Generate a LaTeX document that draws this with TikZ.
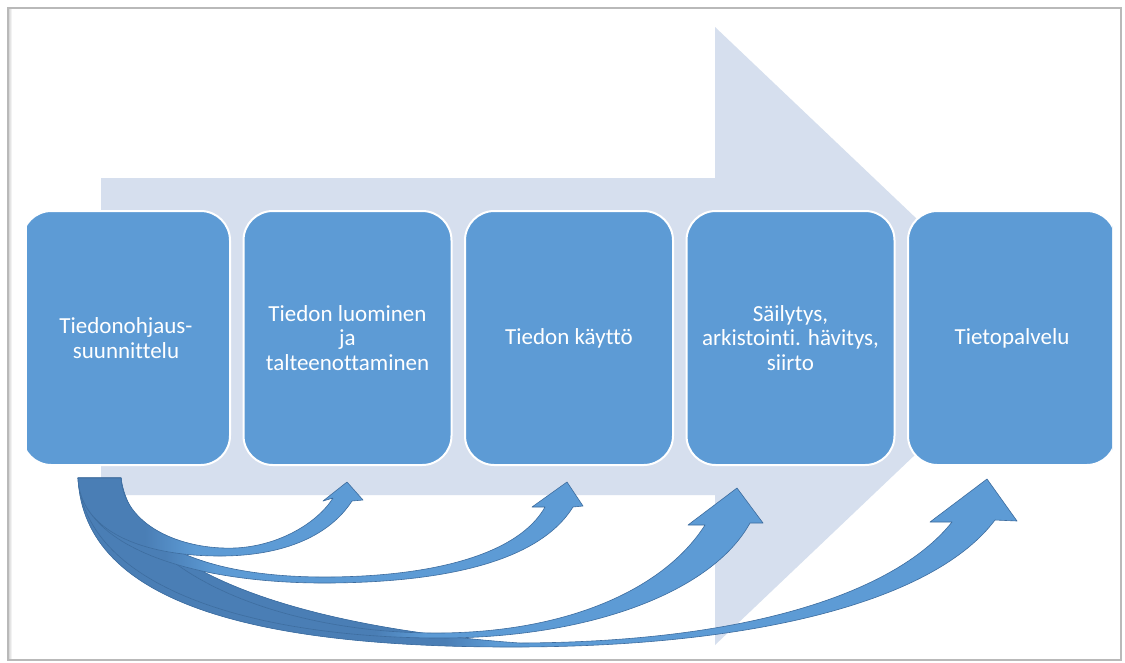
\documentclass[tikz,border=0pt]{standalone}
\usepackage{fontspec}
\setmainfont{Carlito}[Ligatures=NoCommon]
\definecolor{shaftgray}{RGB}{214,223,238}
\definecolor{boxblue}{RGB}{93,155,213}
\definecolor{curvelight}{RGB}{93,155,213}
\definecolor{curvedark}{RGB}{74,126,181}
\definecolor{curveline}{RGB}{61,108,158}
\tikzset{
  stage/.style={draw=white, line width=1.5pt, fill=boxblue, rounded corners=22pt,
    minimum width=156pt, minimum height=190.5pt, inner sep=2pt, align=center,
    text=white, font=\fontsize{17.25}{18.5}\selectfont},
  bent/.style={fill=curvelight, draw=curveline, line width=0.45pt, line join=round},
  backside/.style={path picture={
    \fill[curvedark] (0,440) rectangle (#1-25,662);
    \shade[left color=curvedark, right color=curvelight] (#1-25,440) rectangle (#1+25,662);}},
}

\begin{document}
\begin{tikzpicture}[x=0.75pt, y=-0.75pt]
        \useasboundingbox (0,0) rectangle (1125,662);
        \fill[white] (0,0) rectangle (1125,662);
        \fill[left color=gray!50, right color=white] (7,8) rectangle (12,660);
        \draw[gray!55, line width=0.8pt] (8,8) -- (1121,8) -- (1121,660) -- (8,660) -- cycle;
        \fill[shaftgray] (101,178) -- (715,178) -- (715,27) -- (1040,336) -- (715,645) -- (715,495) -- (101,495) -- cycle;
        \begin{scope}
        \clip (27,0) rectangle (1112,662);
        \node[stage] (plan) at (126,338) {Tiedonohjaus-\\suunnittelu};
        \node[stage] (luonti) at (347.5,338) {Tiedon luominen\\ja\\talteenottaminen};
        \node[stage] (kaytto) at (569,338) {Tiedon käyttö};
        \node[stage] (sailytys) at (790.5,338) {Säilytys,\\arkistointi. hävitys,\\siirto};
        \node[stage] (palvelu) at (1012,338) {Tietopalvelu};
        \end{scope}
        \coordinate (tailL) at (78,478);
        \coordinate (tailR) at (121,478);
        \coordinate (tipD) at (987,479);
        \coordinate (tipC) at (737,488);
        \coordinate (tipB) at (567,482);
        \coordinate (tipA) at (347,482);
        \path[bent, backside=470]
          (tailL) .. controls (84,605) and (260,648) .. (520,647) .. controls (760,646) and (935,600) .. (995,520)
          -- (1017,521) -- (tipD) -- (930,522) -- (952,522)
          .. controls (900,588) and (760,642) .. (520,643) .. controls (330,630) and (135,580) .. (tailR) -- cycle;
        \path[bent, backside=400]
          (tailL) .. controls (86,590) and (260,638) .. (440,638) .. controls (590,638) and (712,592) .. (750,523)
          -- (763,523) -- (tipC) -- (688,525) -- (705,525)
          .. controls (665,588) and (570,632) .. (440,633) .. controls (270,634) and (124,565) .. (tailR) -- cycle;
        \path[bent, backside=190]
          (tailL) .. controls (82,550) and (200,584) .. (330,583) .. controls (450,582) and (540,560) .. (573,507)
          -- (583,506) -- (tipB) -- (532,507) -- (545,507)
          .. controls (520,552) and (440,576) .. (330,577) .. controls (200,578) and (124,540) .. (tailR) -- cycle;
        \path[bent, backside=170]
          (tailL) .. controls (80,530) and (140,556) .. (220,556) .. controls (285,556) and (330,535) .. (352,501)
          -- (363,500) -- (tipA) -- (323,501) -- (333,498)
          .. controls (318,522) and (280,546) .. (235,548) .. controls (180,550) and (124,525) .. (tailR) -- cycle;
\end{tikzpicture}
\end{document}
